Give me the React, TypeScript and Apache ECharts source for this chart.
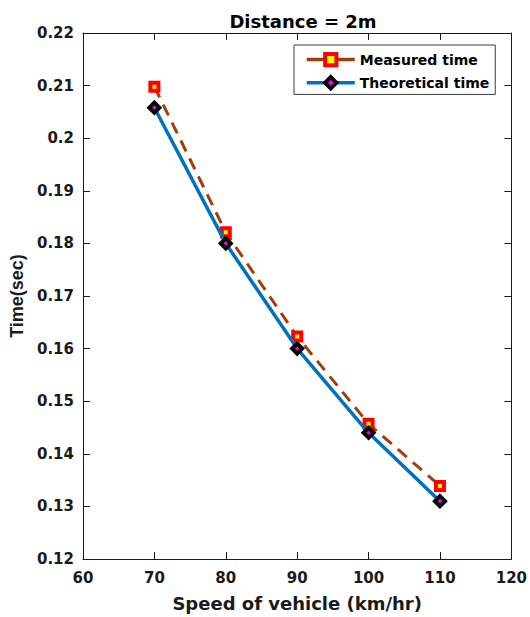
import React, { useEffect, useRef } from "react";
import * as echarts from "echarts";

const speeds = [70, 80, 90, 100, 110];
const measuredTime = [0.2098, 0.1821, 0.1623, 0.1457, 0.1339];
const theoreticalTime = [0.2058, 0.18, 0.16, 0.144, 0.131];
const titleText = "Distance = 2m";
const xName = "Speed of vehicle (km/hr)";
const yName = "Time(sec)";
const seriesNames = ["Measured time", "Theoretical time"];

const WIDE = "DejaVu Sans, Verdana, sans-serif";
const NARROW = "Liberation Sans, Arial, sans-serif";
const INK = "#1a1a1a";

export default function App() {
  const ref = useRef<HTMLDivElement>(null);
  useEffect(() => {
    if (!ref.current) return;
    const chart = echarts.init(ref.current, null, { renderer: "svg" });
    const fmt = (v: number) => String(parseFloat(v.toFixed(2)));
    const baseAxisLine = { show: true, lineStyle: { color: INK, width: 1 } };
    const tick = { show: true, inside: true, length: 7, lineStyle: { color: INK } };
    chart.setOption({
      animation: false,
      backgroundColor: "#ffffff",
      title: {
        text: titleText,
        left: 298,
        textAlign: "center",
        top: 7,
        textStyle: { fontFamily: WIDE, fontWeight: "bold", fontSize: 18, color: "#000" },
      },
      grid: { left: 82, right: 16, top: 33, bottom: 54, containLabel: false },
      legend: {
        orient: "vertical",
        left: 294,
        top: 45,
        padding: [7, 6, 4, 11],
        itemWidth: 48,
        itemHeight: 14,
        itemGap: 8,
        backgroundColor: "#fff",
        borderColor: "#3a3a3a",
        borderWidth: 1,
        textStyle: { fontFamily: WIDE, fontWeight: "bold", fontSize: 14, color: "#000" },
        data: [
          {
            name: seriesNames[0],
            lineStyle: { type: "solid", width: 3.5 },
            itemStyle: { borderWidth: 4 },
          },
          {
            name: seriesNames[1],
            lineStyle: { width: 3.5 },
            itemStyle: { borderWidth: 4 },
          },
        ],
      },
      xAxis: [
        {
          type: "value",
          min: 60,
          max: 120,
          interval: 10,
          name: xName,
          nameLocation: "middle",
          nameGap: 35,
          nameTextStyle: { fontFamily: WIDE, fontWeight: "bold", fontSize: 18, color: INK },
          axisLine: baseAxisLine,
          axisTick: tick,
          axisLabel: { fontFamily: WIDE, fontWeight: "bold", fontSize: 15, color: INK, margin: 11 },
          splitLine: { show: false },
        },
        {
          type: "value",
          position: "top",
          min: 60,
          max: 120,
          interval: 10,
          axisLine: baseAxisLine,
          axisTick: tick,
          axisLabel: { show: false },
          splitLine: { show: false },
        },
      ],
      yAxis: [
        {
          type: "value",
          min: 0.12,
          max: 0.22,
          interval: 0.01,
          name: yName,
          nameLocation: "middle",
          nameGap: 57,
          nameTextStyle: { fontFamily: NARROW, fontWeight: "bold", fontSize: 18, color: INK },
          axisLine: baseAxisLine,
          axisTick: tick,
          axisLabel: {
            fontFamily: WIDE,
            fontWeight: "bold",
            fontSize: 15,
            color: INK,
            margin: 9,
            formatter: fmt,
          },
          splitLine: { show: false },
        },
        {
          type: "value",
          position: "right",
          min: 0.12,
          max: 0.22,
          interval: 0.01,
          axisLine: baseAxisLine,
          axisTick: tick,
          axisLabel: { show: false },
          splitLine: { show: false },
        },
      ],
      series: [
        {
          name: seriesNames[0],
          type: "line",
          data: speeds.map((s, i) => [s, measuredTime[i]]),
          lineStyle: { color: "#A23E0C", width: 3, type: [12, 8] },
          itemStyle: { color: "#FFFF00", borderColor: "#FF0000", borderWidth: 4 },
          symbol: "rect",
          symbolSize: 8,
          showSymbol: true,
          z: 2,
        },
        {
          name: seriesNames[1],
          type: "line",
          data: speeds.map((s, i) => [s, theoreticalTime[i]]),
          lineStyle: { color: "#0072BD", width: 3.5 },
          itemStyle: { color: "#FF00FF", borderColor: "#000000", borderWidth: 4 },
          symbol: "diamond",
          symbolSize: 10,
          showSymbol: true,
          z: 3,
        },
      ],
    });
    return () => chart.dispose();
  }, []);
  return <div ref={ref} style={{ width: 530, height: 617, position: "absolute", left: 0, top: 0 }} />;
}
